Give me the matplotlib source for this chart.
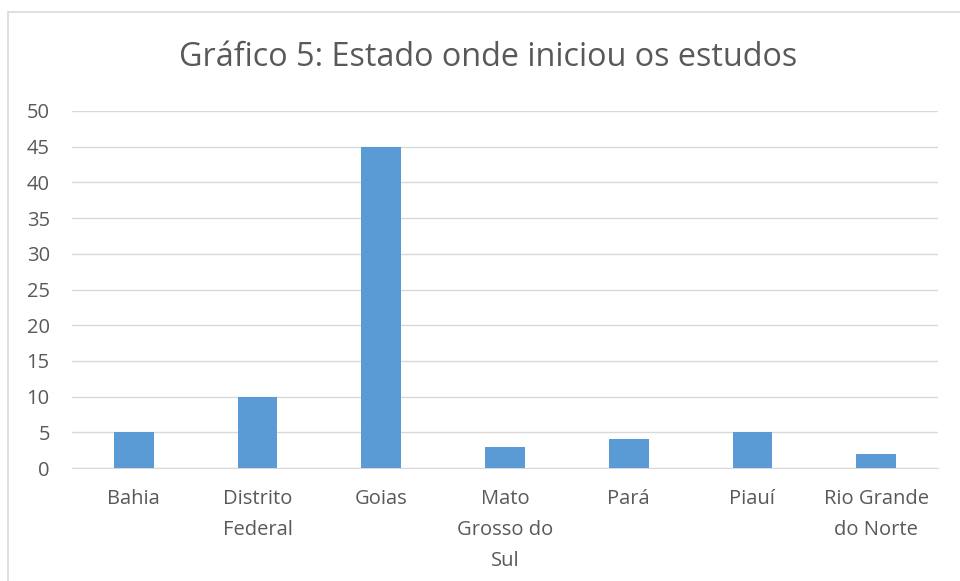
import matplotlib.pyplot as plt
from matplotlib.patches import Rectangle

plt.rcParams['font.family'] = ['Open Sans', 'DejaVu Sans']

estados = ['Bahia', 'Distrito\nFederal', 'Goias', 'Mato\nGrosso do\nSul',
           'Pará', 'Piauí', 'Rio Grande\ndo Norte']
alunos = [5, 10, 45, 3, 4, 5, 2]
yticks = [0, 5, 10, 15, 20, 25, 30, 35, 40, 45, 50]

texto = '#595959'
grade = '#D9D9D9'

fig = plt.figure(figsize=(9.6, 5.81), dpi=100)
ax = fig.add_axes([72/960, 1-468/581, 866/960, 357/581])

x = range(len(estados))
ax.bar(x, alunos, width=0.32, color='#5B9BD5', zorder=3)
ax.set_xlim(-0.5, len(estados)-0.5)
ax.set_ylim(0, 50)
ax.set_yticks(yticks)
ax.set_xticks(list(x))
ax.set_xticklabels(estados, linespacing=1.75)
ax.tick_params(axis='both', length=0, labelsize=14.5, colors=texto)
ax.tick_params(axis='x', pad=15)
ax.tick_params(axis='y', pad=16)
ax.grid(axis='y', color=grade, linewidth=1, zorder=0)
for s in ['top', 'right', 'left']:
    ax.spines[s].set_visible(False)
ax.spines['bottom'].set_color(grade)

fig.text(488/960, 1-58/581, 'Gráfico 5: Estado onde iniciou os estudos',
         ha='center', va='center', fontsize=23.3, color=texto)

fig.patches.append(Rectangle((8/960, -0.05), 1.0, 1.05-12/581,
                             transform=fig.transFigure, fill=False,
                             edgecolor=grade, linewidth=1.2))

fig.savefig('out.png', dpi=100)
